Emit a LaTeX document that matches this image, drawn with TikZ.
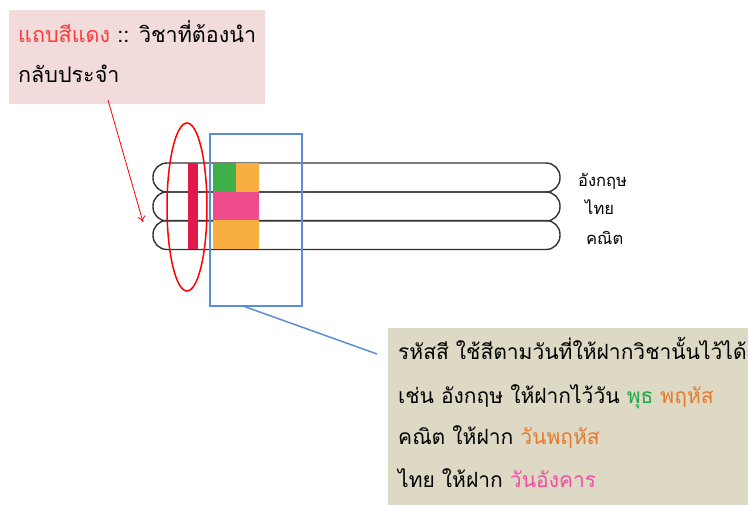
\documentclass[tikz,border=0pt]{standalone}
\usepackage{fontspec}
\usetikzlibrary{shapes.geometric,arrows.meta}
\newfontfamily\thaifont[Script=Thai]{Loma}
\definecolor{notepink}{HTML}{F2DCDB}
\definecolor{notetan}{HTML}{DDD9C4}
\definecolor{barred}{HTML}{E3194B}
\definecolor{daygreen}{HTML}{3DB049}
\definecolor{dayorange}{HTML}{F9AE40}
\definecolor{daypink}{HTML}{EE4C8A}
\definecolor{markblue}{HTML}{5B8ED6}
\definecolor{txtred}{HTML}{FF3B3B}
\definecolor{txtgreen}{HTML}{1FA84A}
\definecolor{txtorange}{HTML}{E8792A}
\definecolor{txtpink}{HTML}{F04FA3}
\begin{document}
\begin{tikzpicture}[x=1pt, y=-1pt,
  strip/.style={draw=black!80, line width=1.4pt, rounded corners=14pt, minimum width=407pt, minimum height=29pt, inner sep=0pt},
  tab/.style={inner sep=0pt, outer sep=0pt, anchor=north west},
  txt/.style={inner sep=0pt, anchor=base west, font=\thaifont\fontsize{21}{21}\selectfont},
  tip/.style={inner sep=0pt, anchor=base west, font=\thaifont\fontsize{21.5}{21.5}\selectfont},
  lbl/.style={inner sep=0pt, anchor=base west, font=\thaifont\fontsize{16.5}{16.5}\selectfont}]
\useasboundingbox (0,0) rectangle (748,505);
\node[tab, fill=notepink, minimum width=256pt, minimum height=94pt] (note) at (9,10){};
\node[tip] (noteA) at (18,43){{\color{txtred}แถบสีแดง} :: วิชาที่ต้องนำ};
\node[tip] (noteB) at (18,83){กลับประจำ};
\node[strip] (stripEng) at (356.5,177.5){};
\node[strip] (stripThai) at (356.5,206.5){};
\node[strip] (stripMath) at (356.5,235){};
\node[tab, fill=barred, minimum width=10pt, minimum height=86pt] (bar) at (188,163){};
\node[tab, fill=daygreen, minimum width=23pt, minimum height=29pt] (engA) at (213,163){};
\node[tab, fill=dayorange, minimum width=23pt, minimum height=29pt] (engB) at (236,163){};
\node[tab, fill=daypink, minimum width=46pt, minimum height=28pt] (thai) at (213,192){};
\node[tab, fill=dayorange, minimum width=46pt, minimum height=29pt] (math) at (213,220){};
\node[ellipse, draw=red, line width=1.5pt, inner sep=0pt, minimum width=40pt, minimum height=168pt] (ring) at (187,207){};
\node[tab, draw=markblue, line width=1.5pt, minimum width=92pt, minimum height=172pt] (zone) at (210,134){};
\node[lbl] (nameEng) at (578,187){อังกฤษ};
\node[lbl] (nameThai) at (585,215){ไทย};
\node[lbl] (nameMath) at (586,245){คณิต};
\node[tab, fill=notetan, minimum width=360pt, minimum height=178pt] (code) at (388,328){};
\node[txt] (codeA) at (398,360){รหัสสี ใช้สีตามวันที่ให้ฝากวิชานั้นไว้ได้};
\node[txt] (codeB) at (398,403){เช่น อังกฤษ ให้ฝากไว้วัน {\color{txtgreen}พุธ} {\color{txtorange}พฤหัส}};
\node[txt] (codeC) at (398,445){คณิต ให้ฝาก {\color{txtorange}วันพฤหัส}};
\node[txt] (codeD) at (398,487){ไทย ให้ฝาก {\color{txtpink}วันอังคาร}};
\coordinate (tip) at (143,222);
\coordinate (lineEnd) at (377,354);
\draw[red, line width=0.8pt, -{To[length=6pt,width=8pt]}] ([xshift=99pt, yshift=4pt]note.south west) -- (tip);
\draw[markblue, line width=1.5pt] ([xshift=33pt]zone.south west) -- (lineEnd);
\end{tikzpicture}
\end{document}
